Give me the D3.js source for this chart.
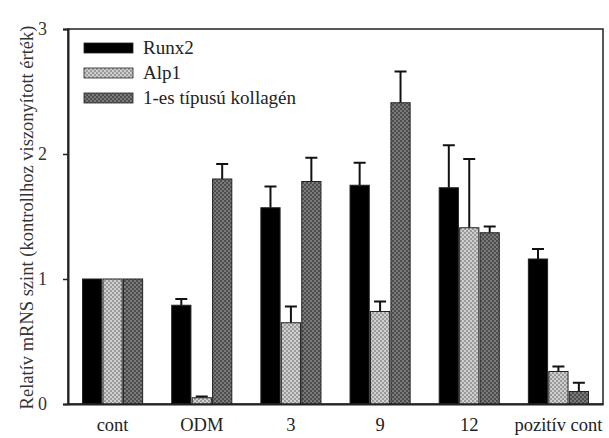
<!DOCTYPE html>
<html><head><meta charset="utf-8">
<script src="https://cdn.jsdelivr.net/npm/d3@7/dist/d3.min.js"></script>
<style>body{margin:0;background:#fff}svg{display:block}text{font-family:"Liberation Serif","DejaVu Serif",serif}</style>
</head><body><svg id="c" width="609" height="438"></svg>
<script>
const categories = ["cont","ODM","3","9","12","pozitív cont"];
const series = ["Runx2","Alp1","1-es típusú kollagén"];
const runx2 = [1.00,0.79,1.57,1.75,1.73,1.16];
const runx2Err = [0,0.05,0.17,0.18,0.34,0.08];
const alp1 = [1.00,0.05,0.65,0.74,1.41,0.26];
const alp1Err = [0,0.01,0.13,0.08,0.55,0.04];
const kollagen = [1.00,1.80,1.78,2.41,1.37,0.10];
const kollagenErr = [0,0.12,0.19,0.25,0.05,0.07];
const yTicks = [0,1,2,3];

const values = [runx2, alp1, kollagen];
const errs = [runx2Err, alp1Err, kollagenErr];
const svg = d3.select("#c");
const m = {l:68, r:6, t:29, b:34};
const W = 609, H = 438;

const defs = svg.append("defs");
function pat(id, bg, fg){
  const p = defs.append("pattern").attr("id",id).attr("patternUnits","userSpaceOnUse")
    .attr("width",4).attr("height",4);
  p.append("rect").attr("width",4).attr("height",4).attr("fill",bg);
  p.append("rect").attr("x",0).attr("y",0).attr("width",2).attr("height",2).attr("fill",fg);
  p.append("rect").attr("x",2).attr("y",2).attr("width",2).attr("height",2).attr("fill",fg);
}
pat("pA","#cfcfcf","#9a9a9a");
pat("pK","#7a7a7a","#4e4e4e");
const fills = ["#000","url(#pA)","url(#pK)"];

const x = d3.scaleBand().domain(categories).range([m.l, W-m.r]).paddingInner(0.326).paddingOuter(0.163);
const xs = d3.scaleBand().domain(series).range([0, x.bandwidth()]).paddingInner(0.06);
const y = d3.scaleLinear().domain([0,3]).range([H-m.b, m.t]);

// box
svg.append("rect").attr("x",m.l).attr("y",m.t).attr("width",W-m.r-m.l).attr("height",H-m.b-m.t)
  .attr("fill","none").attr("stroke","#222").attr("stroke-width",1.5);

series.forEach((s,si)=>{
  const g = svg.append("g");
  categories.forEach((c,ci)=>{
    const v = values[si][ci], e = errs[si][ci];
    const bx = x(c)+xs(s), bw = xs.bandwidth();
    if (e>0){
      const cx = bx+bw/2;
      g.append("line").attr("x1",cx).attr("x2",cx).attr("y1",y(v)).attr("y2",y(v+e)).attr("stroke","#111").attr("stroke-width",2);
      g.append("line").attr("x1",cx-6).attr("x2",cx+6).attr("y1",y(v+e)).attr("y2",y(v+e)).attr("stroke","#111").attr("stroke-width",2);
    }
    g.append("rect").attr("x",bx).attr("y",y(v)).attr("width",bw).attr("height",y(0)-y(v))
      .attr("fill",fills[si]).attr("stroke","#222").attr("stroke-width",1);
  });
});

// axes
const ya = svg.append("g").attr("transform",`translate(${m.l},0)`)
  .call(d3.axisLeft(y).tickValues(yTicks).tickFormat(d3.format("d")).tickSize(5).tickPadding(16));
ya.select(".domain").attr("stroke","#222").attr("stroke-width",2);
ya.selectAll(".tick line").attr("stroke","#222").attr("stroke-width",1.5);
ya.selectAll("text").attr("font-size",18).attr("fill","#333");

const xa = svg.append("g").attr("transform",`translate(0,${H-m.b})`)
  .call(d3.axisBottom(x).tickSize(0).tickPadding(14));
xa.select(".domain").attr("stroke","#222").attr("stroke-width",2);
xa.selectAll("text").attr("font-size",18.5).attr("fill","#222");

svg.append("text").attr("transform",`translate(33,${(m.t+H-m.b)/2+1}) rotate(-90)`)
  .attr("text-anchor","middle").attr("font-size",18.5).attr("fill","#333")
  .text("Relatív mRNS szint (kontrollhoz viszonyított érték)");

// legend
const lg = svg.append("g");
series.forEach((s,i)=>{
  const yy = 48 + i*25;
  lg.append("rect").attr("x",84).attr("y",yy-5).attr("width",49).attr("height",10)
    .attr("fill",fills[i]).attr("stroke","#222").attr("stroke-width",0.8);
  lg.append("text").attr("x",143).attr("y",yy+6).attr("font-size",19).attr("fill","#222").text(s);
});
</script></body></html>
